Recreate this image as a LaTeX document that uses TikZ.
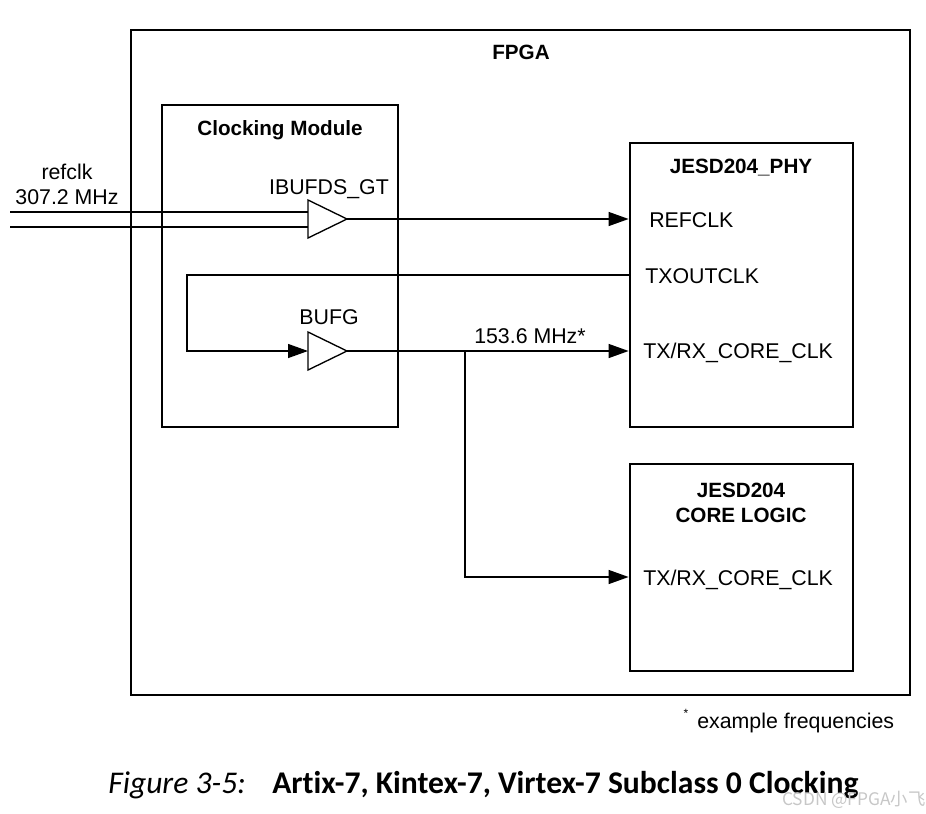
\documentclass[tikz,border=0pt]{standalone}
\usepackage{fontspec}
\setmainfont{Liberation Sans}
\newfontfamily\capfont[Ligatures=NoCommon]{Carlito}
\newfontfamily\cjkfont{Noto Sans CJK SC}
\usetikzlibrary{arrows.meta,fit}
\begin{document}
\begin{tikzpicture}[x=0.75pt,y=-0.75pt,
  box/.style={draw, line width=2.1pt, inner sep=0pt},
  wire/.style={line width=1.0pt},
  arr/.style={wire, -{Triangle[length=15pt,width=10.5pt]}},
  lbl/.style={font=\fontsize{16}{18}\selectfont, inner sep=0pt},
  ttl/.style={font=\fontsize{15.5}{18}\selectfont\bfseries, inner sep=0pt, align=center},
  buf/.style={draw, line width=1.0pt, fill=white}]
\useasboundingbox (0,0) rectangle (926,814);
% boxes
\node[box, fit={(131,30) (910,695)}] (fpga) {};
\node[box, fit={(162,105) (398,427)}] (clk) {};
\node[box, fit={(630,143) (853,427)}] (phy) {};
\node[box, fit={(630,464) (853,671)}] (core) {};
% titles
\node[ttl, anchor=base] (tfpga) at (521,59) {FPGA};
\node[ttl, anchor=base] (tclk) at (280,135) {Clocking Module};
\node[ttl, anchor=base] (tphy) at (741,173) {JESD204\_PHY};
\node[ttl, anchor=base] (tcore1) at (741,497) {JESD204};
\node[ttl, anchor=base] (tcore2) at (741,522) {CORE LOGIC};
% pin labels
\node[lbl, anchor=base west] (prefclk) at (649,227) {REFCLK};
\node[lbl, anchor=base west] (ptxout) at (645,283) {TXOUTCLK};
\node[lbl, anchor=base west] (pcore1) at (643,358) {TX/RX\_CORE\_CLK};
\node[lbl, anchor=base west] (pcore2) at (643,585) {TX/RX\_CORE\_CLK};
% input labels
\node[lbl, anchor=base] (lref) at (67,179) {refclk};
\node[lbl, anchor=base] (lfreq) at (67,204) {307.2 MHz};
\node[lbl, anchor=base] (libuf) at (329,194) {IBUFDS\_GT};
\node[lbl, anchor=base] (lbufg) at (329,324) {BUFG};
\node[lbl, anchor=base] (lmhz) at (530,343) {153.6 MHz*};
% coordinates
\coordinate (inp) at (10,212);
\coordinate (inn) at (10,227);
\coordinate (ibinp) at (308,212);
\coordinate (ibinn) at (308,227);
\coordinate (ibout) at (347,219);
\coordinate (bgin) at (308,351);
\coordinate (bgout) at (347,351);
\coordinate (loopx) at (187,275);
\coordinate (br) at (465,351);
\coordinate (brdown) at (465,577);
% input wires
\draw[wire] (inp) -- (ibinp);
\draw[wire] (inn) -- (ibinn);
% buffers
\draw[buf] (308,200) -- (ibout) -- (308,238) -- cycle;
\draw[buf] (308,332) -- (bgout) -- (308,370) -- cycle;
% connectors
\draw[arr] (ibout) -- (phy.west |- ibout);
\draw[arr] (phy.west |- loopx) -- (loopx) |- (bgin);
\draw[arr] (bgout) -- (phy.west |- bgout);
\draw[arr] (br) -- (brdown) -- (core.west |- brdown);
% footnote
\node[lbl, anchor=base west] (fn) at (697,728) {example frequencies};
\node[font=\fontsize{9}{10}\selectfont, inner sep=0pt] (fnstar) at (686,713) {*};
% caption
\node[anchor=base west, inner sep=0pt, font=\capfont\itshape\fontsize{23.7}{27}\selectfont] (capfig) at (108,793) {Figure 3-5:};
\node[anchor=base west, inner sep=0pt, font=\capfont\bfseries\fontsize{23.7}{27}\selectfont] (captxt) at (272,793) {Artix-7, Kintex-7, Virtex-7 Subclass 0 Clocking};
% watermark
\node[anchor=base west, inner sep=0pt, text=black!22, font=\cjkfont\fontsize{13}{15}\selectfont] (wm) at (782,805) {CSDN @FPGA小飞};
\end{tikzpicture}
\end{document}
